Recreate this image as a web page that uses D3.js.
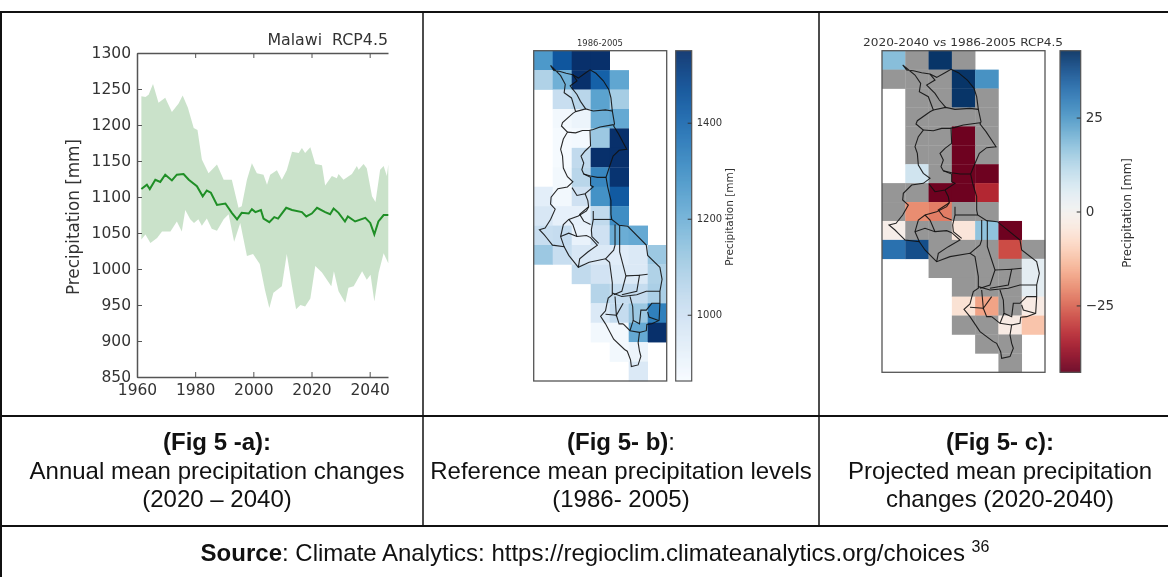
<!DOCTYPE html>
<html>
<head>
<meta charset="utf-8">
<script src="https://cdn.jsdelivr.net/npm/d3@7"></script>
<style>
  html, body { margin: 0; background: #fff; }
  svg { display: block; }
  .mpl text { font-family: "DejaVu Sans", sans-serif; fill: #333; }
  .cap text { font-family: "Liberation Sans", Arial, sans-serif; fill: #111; font-size: 24px; text-anchor: middle; }
  .soft { filter: blur(0.45px); }
</style>
</head>
<body>
<svg id="chart" width="1168" height="577"></svg>
<script>
// time series panel, [year, mm]
const upperBand = [[1961.5,1240],[1962.9,1239],[1964,1242],[1965.5,1257],[1967.4,1231],[1969.7,1238],[1972,1218],[1974.3,1230],[1975.7,1241],[1977.5,1224],[1979.5,1196],[1980.8,1193],[1982.3,1152],[1984.6,1133],[1987.5,1145],[1989.8,1124],[1992.6,1124],[1994.9,1085],[1996,1087],[1997.8,1124],[1999.5,1147],[2001.2,1133],[2003.5,1131],[2004.7,1117],[2005.8,1131],[2008.1,1137],[2009.8,1124],[2011.5,1137],[2013.3,1163],[2015.6,1161],[2016.7,1168],[2017.8,1161],[2019.6,1169],[2021.3,1146],[2023.6,1144],[2024.7,1116],[2027,1129],[2028.7,1126],[2029.3,1132],[2031,1124],[2033.9,1132],[2035.6,1143],[2036.2,1138],[2037.9,1146],[2039,1140],[2040.8,1101],[2042,1093],[2043.6,1138],[2044.8,1143],[2045.9,1129],[2046.4,1145]];
const lowerBand = [[1961.5,1041],[1962.9,1048],[1964.6,1036],[1966.9,1043],[1968.6,1052],[1971.5,1052],[1973.7,1066],[1975.4,1052],[1976.6,1082],[1978.3,1069],[1979.6,1064],[1981.1,1069],[1982.3,1060],[1984,1070],[1985.7,1056],[1987.5,1053],[1989.8,1069],[1991.5,1076],[1993.4,1038],[1995.5,1064],[1997.8,1018],[1999.9,1021],[2002.2,1007],[2004,971],[2005.5,946],[2006.9,967],[2009.8,976],[2011.5,1021],[2013.3,976],[2014.7,944],[2016.2,950],[2017.8,948],[2019.6,959],[2021.3,1004],[2023.6,995],[2026.8,976],[2027.7,997],[2029.3,969],[2031.6,953],[2032.7,974],[2034.5,976],[2037.4,997],[2039,985],[2040.3,992],[2041.6,955],[2043.1,995],[2044.8,1022],[2046.4,1008]];
const meanLine = [[1961.5,1111],[1963.4,1117],[1964.4,1111],[1966.3,1124],[1968,1121],[1969.7,1131],[1972,1123],[1973.7,1131],[1976,1132],[1977.8,1124],[1980.6,1115],[1982.6,1101],[1984,1109],[1985.4,1106],[1987.5,1089],[1990.4,1091],[1992.6,1078],[1994.4,1069],[1996,1078],[1998.4,1077],[1999.5,1083],[2000.7,1079],[2002.6,1082],[2003.5,1070],[2005.5,1065],[2007.2,1072],[2008.5,1070],[2011.3,1085],[2013.3,1082],[2016.7,1079],[2018.2,1073],[2020.1,1077],[2021.9,1085],[2024.7,1079],[2026.4,1076],[2027.6,1084],[2029.3,1078],[2031.5,1066],[2032.5,1073],[2035,1066],[2038.5,1071],[2040.2,1064],[2041.6,1048],[2043,1066],[2044.8,1075],[2046.4,1075]];
const yearTicks = [1960, 1980, 2000, 2020, 2040];
const mmTicks = [850, 900, 950, 1000, 1050, 1100, 1150, 1200, 1250, 1300];

// map panels: 0.5 degree cells, 7 columns by 17 rows. _ no data, G not significant
const _ = null, G = "ns";
const refGrid = [
  [1270,1450,1550,1550,_,_,_],
  [1080,1200,1550,1420,1230,_,_],
  [_,1020,1060,1240,1100,_,_],
  [_,880,900,1210,1220,_,_],
  [_,870,875,1120,1550,_,_],
  [_,870,1040,1550,1550,_,_],
  [_,880,1060,1320,1540,_,_],
  [930,880,1000,1290,1440,_,_],
  [970,920,920,1040,1300,_,_],
  [1020,1030,910,1000,1210,1220,_],
  [1120,1020,970,960,940,960,1120],
  [_,_,1040,990,960,960,1080],
  [_,_,_,1070,1030,1030,1090],
  [_,_,_,960,1030,1120,1340],
  [_,_,_,880,880,1220,1550],
  [_,_,_,_,880,900,_],
  [_,_,_,_,_,960,_]
];
const changeGrid = [
  [18,G,42,G,_,_,_],
  [G,G,G,42,26,_,_],
  [_,G,G,42,G,_,_],
  [_,G,G,G,G,_,_],
  [_,G,G,-42,G,_,_],
  [_,G,G,-42,G,_,_],
  [_,8,G,-42,-42,_,_],
  [G,G,-42,-42,-33,_,_],
  [G,-20,-22,G,G,_,_],
  [-2,G,G,-5,17,-42,_],
  [32,38,G,G,G,-28,G],
  [_,_,G,G,G,G,4],
  [_,_,_,G,G,G,4],
  [_,_,_,-6,-17,G,-3],
  [_,_,_,G,G,-3,-12],
  [_,_,_,_,G,G,_],
  [_,_,_,_,_,G,_]
];
const refTicks = [1000, 1200, 1400];
const changeTicks = [-25, 0, 25];

// border lines, in tracing units of the map box
const traceX = [6, 495], traceY = [2, 967];
const mapBorders = [
  [[68,45],[80,60],[100,62],[125,68],[150,72],[170,82],[195,68],[213,58],[235,68],[262,90],[282,115],[290,140],[295,178],[303,215],[300,222],[318,245],[348,290],[320,293],[298,310],[283,345],[272,372],[278,400],[290,440],[290,480],[293,495],[320,512],[352,515],[420,570],[425,600],[470,635],[478,670],[470,705],[470,742],[467,790],[440,800],[422,802],[420,820],[395,825],[390,855],[395,880],[400,895],[390,920],[365,925],[362,905],[350,880],[340,875],[300,845],[270,800],[252,778],[270,762],[275,742],[280,725],[295,715],[295,680],[285,620],[270,610],[210,620],[170,635],[160,625],[135,600],[118,575],[75,570],[55,550],[45,540],[27,525],[48,520],[68,495],[85,465],[68,450],[70,430],[95,405],[130,400],[150,385],[130,370],[115,345],[112,310],[105,290],[115,260],[130,240],[108,222],[112,212],[150,185],[160,180],[145,140],[118,125],[122,100],[105,75],[68,45]],
  [[150,72],[165,90],[140,105],[165,130],[178,150],[197,172]],
  [[160,180],[197,172],[225,178],[270,175],[295,178]],
  [[130,240],[160,242],[185,235],[210,235],[225,232],[250,225],[300,218]],
  [[213,235],[215,280],[195,295],[180,310],[190,330],[183,350],[190,362],[215,368],[240,372],[272,372]],
  [[190,362],[215,372],[215,395],[225,400],[195,420],[165,425],[147,402]],
  [[195,420],[205,440],[208,458],[200,470],[170,485],[135,495],[115,510],[105,545],[118,575]],
  [[208,458],[175,480],[190,500],[215,510]],
  [[225,470],[225,495],[218,525],[220,545],[245,565]],
  [[225,495],[293,495]],
  [[105,545],[135,535],[165,545],[200,542],[215,548],[240,570],[205,590],[175,610],[170,635]],
  [[135,495],[150,510],[165,545]],
  [[305,510],[305,570],[300,585],[270,610]],
  [[322,512],[322,590],[345,660],[330,705],[300,715]],
  [[345,660],[395,658],[385,705],[330,715]],
  [[395,658],[425,655]],
  [[295,710],[330,720],[385,715],[420,705],[470,705]],
  [[305,720],[310,775],[335,740]],
  [[270,772],[310,775],[320,800],[335,800]],
  [[360,720],[370,750],[372,790],[395,800],[400,760],[420,760],[440,740],[470,740]],
  [[425,765],[430,780],[465,790]],
  [[335,800],[360,820],[395,825]],
  [[372,790],[360,820]]
];

const svg = d3.select("#chart");
const spine = "#555";

// ---- panel a ----
const x = d3.scaleLinear().domain([1960, 2046.3]).range([137, 388]);
const y = d3.scaleLinear().domain([850, 1300]).range([377, 53]);

const panelA = svg.append("g").attr("class", "mpl soft");
const toXY = d3.line().x(d => x(d[0])).y(d => y(d[1]));

panelA.append("path")
  .attr("d", toXY(upperBand.concat(lowerBand.slice().reverse())) + "Z")
  .attr("fill", "#2a8a2a").attr("fill-opacity", 0.25);
panelA.append("path")
  .attr("d", toXY(meanLine))
  .attr("fill", "none").attr("stroke", "#1f8f26").attr("stroke-width", 2);

function styleAxis(g, size) {
  g.selectAll(".domain").attr("stroke", spine).attr("stroke-width", 1.5);
  g.selectAll(".tick line").attr("stroke", spine);
  g.selectAll("text").attr("font-size", size).attr("fill", null);
  g.attr("font-family", null).attr("font-size", null);
}

panelA.append("g").attr("transform", "translate(0,377)")
  .call(d3.axisBottom(x).tickValues(yearTicks).tickFormat(d3.format("d")).tickSize(-5).tickSizeOuter(0).tickPadding(7))
  .call(g => styleAxis(g, 15.5));
panelA.append("g").attr("transform", "translate(0,53)")
  .call(d3.axisTop(x).tickValues(yearTicks).tickSize(-5).tickSizeOuter(0).tickFormat(""))
  .call(g => styleAxis(g, 15.5));
panelA.append("g").attr("transform", "translate(137,0)")
  .call(d3.axisLeft(y).tickValues(mmTicks).tickFormat(d3.format("d")).tickSize(-5).tickSizeOuter(0).tickPadding(6))
  .call(g => styleAxis(g, 15.5));

panelA.append("text").attr("x", 388).attr("y", 45)
  .attr("text-anchor", "end").attr("font-size", 15.8).attr("xml:space", "preserve")
  .text("Malawi  RCP4.5");
panelA.append("text").attr("transform", "translate(79,217) rotate(-90)")
  .attr("text-anchor", "middle").attr("font-size", 16.8)
  .text("Precipitation [mm]");

// ---- map panels ----
function drawMap(opts) {
  const g = svg.append("g").attr("class", "mpl soft");
  const [x0, x1] = opts.xRange, [y0, y1] = opts.yRange;
  const col = d3.scaleBand().domain(d3.range(7)).range([x0, x1]);
  const row = d3.scaleBand().domain(d3.range(17)).range([y0, y1]);
  const tx = d3.scaleLinear().domain(traceX).range([x0, x1]);
  const ty = d3.scaleLinear().domain(traceY).range([y0, y1]);

  const cells = opts.grid.flatMap((vals, r) => vals.map((v, c) => ({ r, c, v }))).filter(d => d.v !== null);
  g.selectAll("rect.cell").data(cells).enter().append("rect")
    .attr("class", "cell")
    .attr("x", d => col(d.c)).attr("y", d => row(d.r))
    .attr("width", col.bandwidth() + 0.3).attr("height", row.bandwidth() + 0.3)
    .attr("fill", d => d.v === G ? "#969696" : opts.color(d.v));

  const border = d3.line().x(d => tx(d[0])).y(d => ty(d[1]));
  g.selectAll("path.border").data(mapBorders).enter().append("path")
    .attr("class", "border")
    .attr("d", border)
    .attr("fill", "none").attr("stroke", "#111").attr("stroke-opacity", 0.9).attr("stroke-width", 1.1);

  g.append("rect").attr("x", x0).attr("y", y0).attr("width", x1 - x0).attr("height", y1 - y0)
    .attr("fill", "none").attr("stroke", spine).attr("stroke-width", 1.3);

  const title = g.append("text").attr("x", opts.titleX).attr("y", 46).attr("text-anchor", "middle")
    .attr("font-size", opts.titleSize).text(opts.title);
  if (opts.titleWidth) title.attr("textLength", opts.titleWidth).attr("lengthAdjust", "spacingAndGlyphs");

  // colour bar
  const [b0, b1] = opts.barX;
  const v = d3.scaleLinear().domain(opts.barDomain).range([y1, y0]);
  const steps = d3.range(y0, y1, 1);
  g.selectAll("rect.step").data(steps).enter().append("rect")
    .attr("class", "step")
    .attr("x", b0).attr("y", d => d).attr("width", b1 - b0).attr("height", 1.2)
    .attr("fill", d => opts.color(v.invert(d + 0.5)));
  g.append("rect").attr("x", b0).attr("y", y0).attr("width", b1 - b0).attr("height", y1 - y0)
    .attr("fill", "none").attr("stroke", spine).attr("stroke-width", 1.2);

  const axis = g.append("g").attr("transform", `translate(${b1},0)`)
    .call(d3.axisRight(v).tickValues(opts.ticks).tickSize(-4).tickSizeOuter(0).tickPadding(opts.tickPad)
      .tickFormat(d => String(d).replace("-", "\u2212")));
  axis.select(".domain").remove();
  axis.selectAll(".tick line").attr("stroke", "#333");
  axis.selectAll("text").attr("font-size", opts.tickSize).attr("fill", null);
  axis.attr("font-family", null).attr("font-size", null);

  g.append("text").attr("transform", `translate(${opts.labelX},${opts.labelY}) rotate(-90)`)
    .attr("text-anchor", "middle").attr("font-size", opts.labelSize).text("Precipitation [mm]");
}

const blues = d3.scaleSequential(d3.interpolateBlues).domain([862, 1550]);
const redBlue = d3.scaleSequential(d3.interpolateRdBu).domain([-42.8, 42.8]);

drawMap({
  grid: refGrid, color: blues, xRange: [533.7, 666.7], yRange: [50.7, 381],
  title: "1986-2005", titleX: 600, titleSize: 8.4, titleWidth: 46,
  barX: [675.7, 691.7], barDomain: [862, 1550], ticks: refTicks, tickPad: 5, tickSize: 10,
  labelX: 733, labelY: 217, labelSize: 10.5
});
drawMap({
  grid: changeGrid, color: redBlue, xRange: [882, 1045], yRange: [50.7, 372.3],
  title: "2020-2040 vs 1986-2005 RCP4.5", titleX: 963, titleSize: 11, titleWidth: 200,
  barX: [1060, 1080.7], barDomain: [-42.8, 42.8], ticks: changeTicks, tickPad: 5, tickSize: 13.5,
  labelX: 1131, labelY: 213, labelSize: 11.8
});

// ---- table and captions ----
const tableRules = [
  [0, 12, 1168, 12, 2], [0, 416, 1168, 416, 2], [0, 526, 1168, 526, 2],
  [1, 12, 1, 577, 2], [423, 12, 423, 526, 1.5], [819, 12, 819, 526, 1.5]
];
svg.append("g").attr("stroke", "#111").selectAll("line").data(tableRules).enter().append("line")
  .attr("x1", d => d[0]).attr("y1", d => d[1]).attr("x2", d => d[2]).attr("y2", d => d[3])
  .attr("stroke-width", d => d[4]);

const captions = [
  { cx: 217, bold: "(Fig 5 -a):", plain: "", lines: ["Annual mean precipitation changes", "(2020 \u2013 2040)"] },
  { cx: 621, bold: "(Fig 5- b)", plain: ":", lines: ["Reference mean precipitation levels", "(1986- 2005)"] },
  { cx: 1000, bold: "(Fig 5- c):", plain: "", lines: ["Projected mean precipitation", "changes (2020-2040)"] }
];
const cap = svg.append("g").attr("class", "cap");
captions.forEach(c => {
  const head = cap.append("text").attr("x", c.cx).attr("y", 450);
  head.append("tspan").attr("font-weight", "bold").text(c.bold);
  if (c.plain) head.append("tspan").text(c.plain);
  c.lines.forEach((t, i) => cap.append("text").attr("x", c.cx).attr("y", 479 + i * 28).text(t));
});
const source = cap.append("text").attr("x", 595).attr("y", 561);
source.append("tspan").attr("font-weight", "bold").text("Source");
source.append("tspan").text(": Climate Analytics: https://regioclim.climateanalytics.org/choices ");
source.append("tspan").style("font-size", "16px").attr("dy", -9).text("36");
</script>
</body>
</html>
